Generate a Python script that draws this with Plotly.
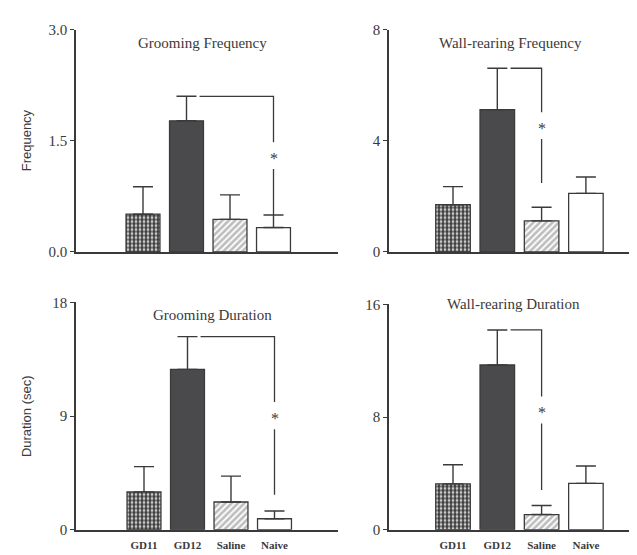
import plotly.graph_objects as go

groups = ["GD11", "GD12", "Saline", "Naive"]

titles = ["Grooming Frequency", "Wall-rearing Frequency", "Grooming Duration", "Wall-rearing Duration"]
groom_freq_mean = [0.51, 1.77, 0.44, 0.33]
groom_freq_sem = [0.37, 0.33, 0.33, 0.17]
rear_freq_mean = [1.70, 5.12, 1.12, 2.11]
rear_freq_sem = [0.65, 1.49, 0.49, 0.59]
groom_dur_mean = [3.0, 12.7, 2.2, 0.87]
groom_dur_sem = [2.0, 2.6, 2.05, 0.61]
rear_dur_mean = [3.26, 11.7, 1.08, 3.29]
rear_dur_sem = [1.36, 2.49, 0.64, 1.24]

y_max = [3.0, 8, 18, 16]
y_tickvals = [[0, 1.5, 3.0], [0, 4, 8], [0, 9, 18], [0, 8, 16]]
y_ticktext = [["0.0", "1.5", "3.0"], ["0", "4", "8"], ["0", "9", "18"], ["0", "8", "16"]]
y_titles = ["Frequency", "Duration (sec)"]

# significance brackets: (from group, to group), lower end of the bracket
sig_pairs = [(1, 3), (1, 2), (1, 3), (1, 2)]
sig_low = [0.50, 2.48, 2.77, 2.83]

means = [groom_freq_mean, rear_freq_mean, groom_dur_mean, rear_dur_mean]
sems = [groom_freq_sem, rear_freq_sem, groom_dur_sem, rear_dur_sem]

W, H = 637, 555
INK = "#3a3a3a"

def px(x):
    return x / W

def py(y):
    return 1 - y / H

# panel geometry in pixels: (x_left, x_right, y_top, y_bottom, center of first bar, spacing)
panels = [
    (68, 330, 14, 243, 135, 43.5),
    (381, 637, 14, 243, 445, 44.3),
    (68, 330, 295, 529, 136, 43.5),
    (381, 637, 297, 529, 445, 44.3),
]

fig = go.Figure()
xs = list(range(len(groups)))

bar_colors = ["#3e3e40", "#4a4a4c", "#bdbdbd", "#ffffff"]
pat_shape = [".", "", "/", ""]
pat_fg = ["#3e3e40", "#4a4a4c", "#2a2a2a", "#ffffff"]
pat_bg = ["#ffffff", "#4a4a4c", "#bdbdbd", "#ffffff"]
pat_size = [4, 4, 4.5, 4]
pat_solid = [0.7, 0.3, 0.6, 0.3]

layout_axes = {}
annotations = []
for i in range(4):
    xl, xr, yt, yb, c0, sp = panels[i]
    xa = "x" if i == 0 else f"x{i+1}"
    ya = "y" if i == 0 else f"y{i+1}"
    xkey = "xaxis" if i == 0 else f"xaxis{i+1}"
    ykey = "yaxis" if i == 0 else f"yaxis{i+1}"
    fig.add_trace(go.Bar(
        x=xs, y=means[i], width=0.78, xaxis=xa, yaxis=ya,
        marker=dict(
            color=bar_colors,
            line=dict(color=INK, width=1.3),
            pattern=dict(shape=pat_shape, fgcolor=pat_fg, bgcolor=pat_bg,
                         size=pat_size, solidity=pat_solid, fillmode="replace"),
        ),
        error_y=dict(type="data", symmetric=False, array=sems[i],
                     arrayminus=[0] * len(groups), color=INK, thickness=1.4, width=10),
        showlegend=False, hoverinfo="skip",
    ))
    # significance bracket
    a, b = sig_pairs[i]
    top = means[i][a] + sems[i][a]
    low = sig_low[i]
    mid = (top + low) / 2
    gap = 0.06 * y_max[i]
    fig.add_trace(go.Scatter(
        x=[a + 0.3, b, b, None, b, b], y=[top, top, mid + gap, None, mid - gap, low],
        mode="lines", line=dict(color=INK, width=1.3), xaxis=xa, yaxis=ya,
        showlegend=False, hoverinfo="skip"))
    annotations.append(dict(x=b, y=mid, xref=xa, yref=ya, text="*", showarrow=False,
                            font=dict(family="Liberation Serif", size=16, color=INK),
                            yshift=-3))
    x0 = -(c0 - xl) / sp
    x1 = (xr - c0) / sp
    layout_axes[xkey] = dict(
        domain=[px(xl), px(xr)], range=[x0, x1], anchor=ya,
        showline=True, linecolor=INK, linewidth=1.5, showgrid=False, zeroline=False,
        tickvals=xs, ticktext=[f"<b>{g}</b>" for g in groups] if i >= 2 else [""] * len(groups),
        ticks="", ticklabelstandoff=4,
        tickfont=dict(family="Liberation Serif", size=11, color=INK),
    )
    layout_axes[ykey] = dict(
        domain=[py(yb), py(yt)], range=[0, y_max[i]], anchor=xa,
        showline=True, linecolor=INK, linewidth=1.5, showgrid=False, zeroline=False,
        tickvals=y_tickvals[i], ticktext=y_ticktext[i], ticks="outside", ticklen=4,
        tickcolor=INK, tickwidth=1.3,
        tickfont=dict(family="Liberation Serif", size=15, color=INK),
    )

title_pos = [(194, 28), (503, 28), (204, 308), (505, 297)]
for t, (tx, ty) in zip(titles, title_pos):
    annotations.append(dict(x=px(tx), y=py(ty), xref="paper", yref="paper", text=t,
                            xanchor="center", yanchor="middle",
                            showarrow=False, font=dict(family="Liberation Serif", size=15, color=INK)))

for t, ty in zip(y_titles, [128, 412]):
    annotations.append(dict(x=px(18), y=py(ty), xref="paper", yref="paper", text=t,
                            xanchor="center", yanchor="middle",
                            textangle=-90, showarrow=False,
                            font=dict(family="Liberation Sans", size=13, color=INK)))

fig.update_layout(
    width=W, height=H, margin=dict(l=0, r=0, t=0, b=0),
    paper_bgcolor="white", plot_bgcolor="white",
    annotations=annotations, bargap=0.2,
    **layout_axes,
)

fig.write_html("out.html")
